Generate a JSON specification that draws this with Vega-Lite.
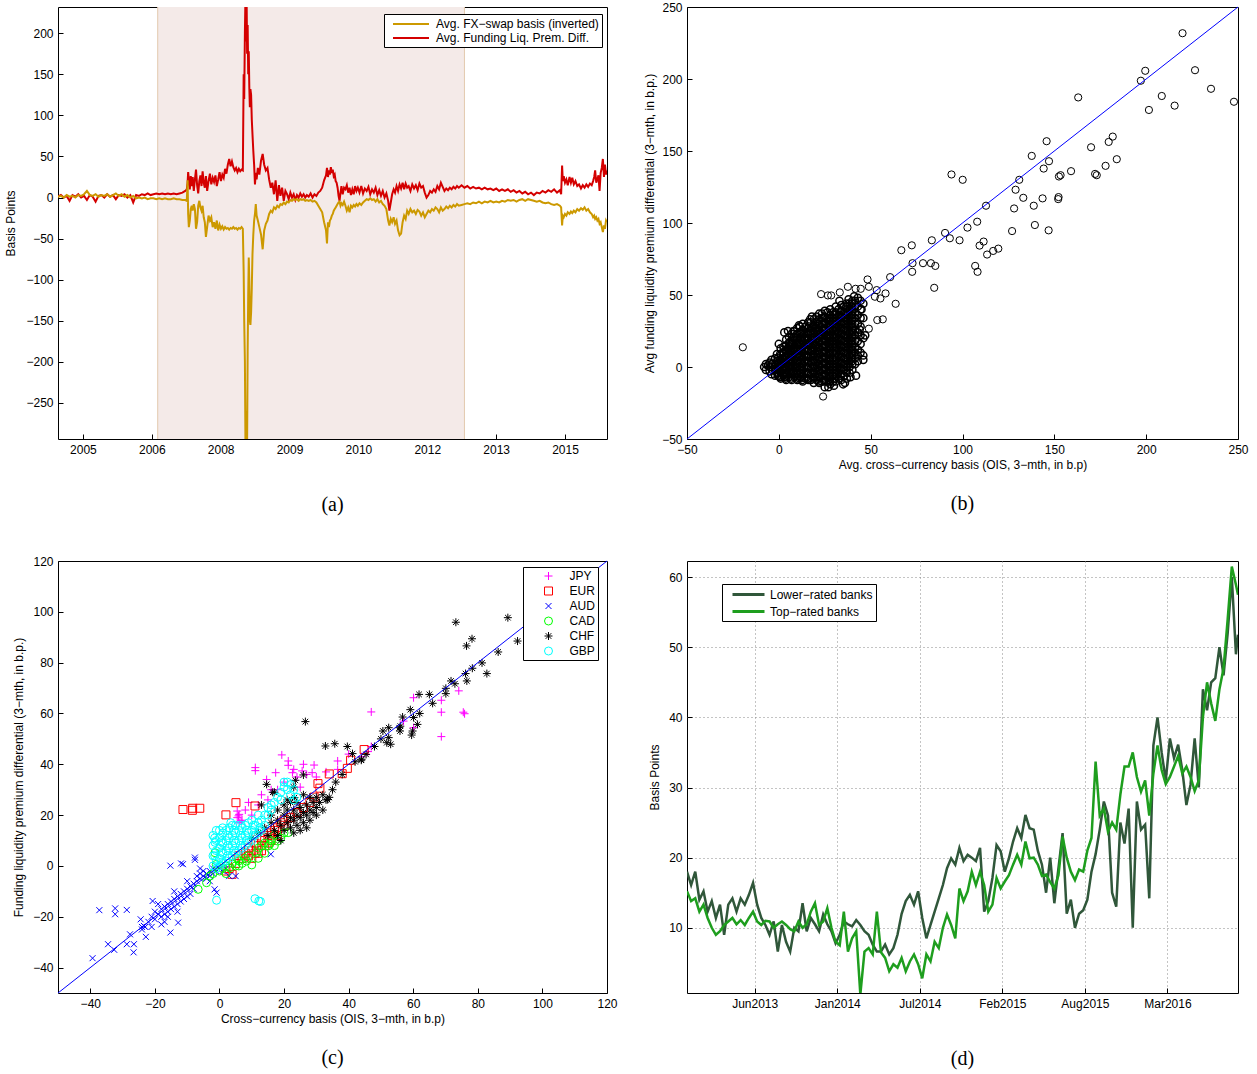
{
"$schema": "https://vega.github.io/schema/vega-lite/v6.json",
"background": "white",
"padding": {"left": 4, "top": 0, "right": 0, "bottom": 0},
"columns": 2,
"spacing": {"row": 122, "column": 80},
"bounds": "flush",
"resolve": {"scale": {"color": "independent", "shape": "independent"}, "legend": {"color": "independent", "shape": "independent"}},
"config": {
  "font": "Liberation Sans",
  "view": {"stroke": "black", "strokeWidth": 1},
  "axis": {"domain": false, "grid": false, "tickColor": "black", "tickSize": -5, "tickWidth": 1, "labelPadding": 10, "labelFontSize": 12, "labelColor": "black", "labelFont": "Liberation Sans", "titleFont": "Liberation Sans", "titleFontSize": 12, "titleFontWeight": "normal", "titleColor": "black", "labelFlush": false, "labelOverlap": false},
  "legend": {"labelFontSize": 12, "labelFont": "Liberation Sans", "labelColor": "black", "strokeColor": "black", "fillColor": "white", "labelLimit": 300},
  "title": {"orient": "bottom", "anchor": "middle", "font": "Liberation Serif", "fontSize": 20, "fontWeight": "normal", "color": "black"}
},
"concat": [
{
  "width": 549, "height": 432,
  "title": {"text": "(a)", "offset": 40},
  "data": {"values": [
{"t":"2005-01-07","L":1,"F":1},{"t":"2005-01-28","L":3,"F":2},{"t":"2005-02-18","L":0,"F":0},{"t":"2005-03-11","L":2,"F":3},{"t":"2005-04-01","L":-4,"F":1},{"t":"2005-04-22","L":3,"F":2},{"t":"2005-05-13","L":1,"F":0},{"t":"2005-06-03","L":4,"F":3},{"t":"2005-06-24","L":0,"F":2},{"t":"2005-07-15","L":2,"F":4},{"t":"2005-08-05","L":-3,"F":8},{"t":"2005-08-26","L":3,"F":3},{"t":"2005-09-16","L":1,"F":2},{"t":"2005-10-07","L":-5,"F":4},{"t":"2005-10-28","L":2,"F":1},{"t":"2005-11-18","L":3,"F":3},{"t":"2005-12-09","L":0,"F":2},{"t":"2005-12-30","L":4,"F":4},
{"t":"2006-01-20","L":1,"F":1},{"t":"2006-02-10","L":3,"F":3},{"t":"2006-03-03","L":-2,"F":5},{"t":"2006-03-24","L":3,"F":2},{"t":"2006-04-14","L":2,"F":4},{"t":"2006-05-05","L":4,"F":1},{"t":"2006-05-26","L":0,"F":3},{"t":"2006-06-16","L":3,"F":0},{"t":"2006-07-07","L":-6,"F":2},{"t":"2006-07-28","L":3,"F":-1},{"t":"2006-08-18","L":2,"F":0},{"t":"2006-09-08","L":4,"F":-1},{"t":"2006-09-29","L":3,"F":0},{"t":"2006-10-20","L":5,"F":-2},{"t":"2006-11-10","L":3,"F":-1},{"t":"2006-12-01","L":4,"F":-1},{"t":"2006-12-22","L":5,"F":-2},
{"t":"2007-01-12","L":4,"F":-1},{"t":"2007-02-02","L":5,"F":-2},{"t":"2007-02-23","L":4,"F":-1},{"t":"2007-03-16","L":5,"F":-2},{"t":"2007-04-06","L":4,"F":-2},{"t":"2007-04-27","L":5,"F":-1},{"t":"2007-05-18","L":4,"F":-2},{"t":"2007-06-08","L":5,"F":-2},{"t":"2007-06-29","L":6,"F":-3},{"t":"2007-07-20","L":8,"F":-3},{"t":"2007-07-31","L":10,"F":-4},{"t":"2007-08-06","L":18,"F":21},{"t":"2007-08-10","L":31,"F":-20},{"t":"2007-08-15","L":22,"F":-36},{"t":"2007-08-22","L":10,"F":-28},{"t":"2007-08-29","L":26,"F":-14},{"t":"2007-09-05","L":14,"F":-10},{"t":"2007-09-12","L":25,"F":-16},{"t":"2007-09-20","L":8,"F":-8},{"t":"2007-09-28","L":22,"F":-14},{"t":"2007-10-06","L":34,"F":-38},{"t":"2007-10-14","L":15,"F":-30},{"t":"2007-10-22","L":5,"F":-10},{"t":"2007-10-30","L":20,"F":-4},{"t":"2007-11-07","L":27,"F":-12},{"t":"2007-11-15","L":14,"F":-16},{"t":"2007-11-23","L":32,"F":-10},{"t":"2007-12-01","L":18,"F":-24},{"t":"2007-12-09","L":12,"F":-30},{"t":"2007-12-17","L":26,"F":-48},{"t":"2007-12-26","L":8,"F":-36},
{"t":"2008-01-05","L":20,"F":-22},{"t":"2008-01-15","L":29,"F":-28},{"t":"2008-01-25","L":16,"F":-24},{"t":"2008-02-04","L":24,"F":-36},{"t":"2008-02-14","L":19,"F":-30},{"t":"2008-02-24","L":27,"F":-38},{"t":"2008-03-05","L":14,"F":-28},{"t":"2008-03-15","L":22,"F":-40},{"t":"2008-03-25","L":31,"F":-33},{"t":"2008-04-04","L":20,"F":-38},{"t":"2008-04-14","L":28,"F":-35},{"t":"2008-04-24","L":24,"F":-39},{"t":"2008-05-04","L":35,"F":-36},{"t":"2008-05-14","L":29,"F":-38},{"t":"2008-05-24","L":40,"F":-37},{"t":"2008-06-03","L":47,"F":-39},{"t":"2008-06-13","L":38,"F":-37},{"t":"2008-06-23","L":44,"F":-38},{"t":"2008-07-03","L":37,"F":-36},{"t":"2008-07-13","L":33,"F":-38},{"t":"2008-07-23","L":36,"F":-37},{"t":"2008-08-02","L":31,"F":-39},{"t":"2008-08-12","L":35,"F":-37},{"t":"2008-08-22","L":32,"F":-38},{"t":"2008-09-01","L":34,"F":-36},{"t":"2008-09-10","L":33,"F":-38},{"t":"2008-09-16","L":150,"F":-90},{"t":"2008-09-20","L":120,"F":-150},{"t":"2008-09-25","L":200,"F":-200},{"t":"2008-09-29","L":245,"F":-300},{"t":"2008-10-03","L":190,"F":-260},{"t":"2008-10-07","L":250,"F":-300},{"t":"2008-10-11","L":175,"F":-300},{"t":"2008-10-15","L":210,"F":-187},{"t":"2008-10-19","L":150,"F":-120},{"t":"2008-10-23","L":178,"F":-73},{"t":"2008-10-27","L":134,"F":-100},{"t":"2008-10-31","L":110,"F":-150},{"t":"2008-11-04","L":132,"F":-155},{"t":"2008-11-09","L":125,"F":-140},{"t":"2008-11-14","L":95,"F":-110},{"t":"2008-11-19","L":77,"F":-69},{"t":"2008-11-25","L":57,"F":-45},{"t":"2008-12-01","L":40,"F":-28},{"t":"2008-12-07","L":16,"F":-20},{"t":"2008-12-13","L":30,"F":-8},{"t":"2008-12-19","L":22,"F":-22},{"t":"2008-12-28","L":36,"F":-28},
{"t":"2009-01-08","L":28,"F":-36},{"t":"2009-01-20","L":45,"F":-45},{"t":"2009-02-01","L":53,"F":-63},{"t":"2009-02-12","L":40,"F":-40},{"t":"2009-02-24","L":33,"F":-32},{"t":"2009-03-08","L":36,"F":-28},{"t":"2009-03-20","L":22,"F":-20},{"t":"2009-04-01","L":12,"F":-16},{"t":"2009-04-12","L":18,"F":-18},{"t":"2009-04-24","L":4,"F":-12},{"t":"2009-05-06","L":21,"F":-14},{"t":"2009-05-18","L":-4,"F":-10},{"t":"2009-05-30","L":15,"F":-12},{"t":"2009-06-10","L":2,"F":-8},{"t":"2009-06-22","L":12,"F":-9},{"t":"2009-07-04","L":-4,"F":-6},{"t":"2009-07-16","L":8,"F":-8},{"t":"2009-07-28","L":4,"F":-5},{"t":"2009-08-09","L":-2,"F":-6},{"t":"2009-08-21","L":6,"F":-3},{"t":"2009-09-02","L":0,"F":-4},{"t":"2009-09-14","L":4,"F":-2},{"t":"2009-09-26","L":-3,"F":-3},{"t":"2009-10-08","L":3,"F":-2},{"t":"2009-10-20","L":0,"F":-4},{"t":"2009-11-01","L":5,"F":-2},{"t":"2009-11-13","L":1,"F":-3},{"t":"2009-11-25","L":4,"F":-2},{"t":"2009-12-07","L":0,"F":-4},{"t":"2009-12-19","L":3,"F":-3},
{"t":"2010-01-01","L":1,"F":-4},{"t":"2010-01-15","L":5,"F":-3},{"t":"2010-01-29","L":0,"F":-5},{"t":"2010-02-12","L":4,"F":-4},{"t":"2010-02-26","L":2,"F":-6},{"t":"2010-03-12","L":6,"F":-10},{"t":"2010-03-26","L":8,"F":-14},{"t":"2010-04-09","L":12,"F":-18},{"t":"2010-04-23","L":21,"F":-30},{"t":"2010-05-07","L":27,"F":-40},{"t":"2010-05-14","L":36,"F":-56},{"t":"2010-05-21","L":25,"F":-30},{"t":"2010-05-28","L":33,"F":-36},{"t":"2010-06-04","L":28,"F":-28},{"t":"2010-06-11","L":37,"F":-26},{"t":"2010-06-18","L":30,"F":-22},{"t":"2010-06-25","L":34,"F":-20},{"t":"2010-07-02","L":26,"F":-16},{"t":"2010-07-09","L":28,"F":-14},{"t":"2010-07-16","L":20,"F":-12},{"t":"2010-07-23","L":18,"F":-10},{"t":"2010-07-30","L":12,"F":-8},{"t":"2010-08-06","L":2,"F":-6},{"t":"2010-08-13","L":-4,"F":-5},{"t":"2010-08-20","L":6,"F":-10},{"t":"2010-08-27","L":14,"F":-7},{"t":"2010-09-05","L":4,"F":-9},{"t":"2010-09-15","L":12,"F":-5},{"t":"2010-09-25","L":10,"F":-10},{"t":"2010-10-05","L":15,"F":-16},{"t":"2010-10-15","L":6,"F":-12},{"t":"2010-10-25","L":12,"F":-18},{"t":"2010-11-04","L":3,"F":-10},{"t":"2010-11-14","L":10,"F":-12},{"t":"2010-11-24","L":4,"F":-9},{"t":"2010-12-04","L":14,"F":-11},{"t":"2010-12-14","L":8,"F":-8},{"t":"2010-12-24","L":12,"F":-10},
{"t":"2011-01-05","L":6,"F":-7},{"t":"2011-01-18","L":14,"F":-9},{"t":"2011-01-31","L":5,"F":-6},{"t":"2011-02-13","L":11,"F":-4},{"t":"2011-02-26","L":8,"F":-2},{"t":"2011-03-11","L":13,"F":-3},{"t":"2011-03-24","L":4,"F":-1},{"t":"2011-04-06","L":10,"F":-3},{"t":"2011-04-19","L":6,"F":-2},{"t":"2011-05-02","L":12,"F":-5},{"t":"2011-05-15","L":3,"F":-2},{"t":"2011-05-28","L":9,"F":-6},{"t":"2011-06-10","L":2,"F":-4},{"t":"2011-06-23","L":8,"F":-8},{"t":"2011-07-06","L":0,"F":-10},{"t":"2011-07-19","L":5,"F":-14},{"t":"2011-08-01","L":-4,"F":-28},{"t":"2011-08-10","L":-16,"F":-34},{"t":"2011-08-20","L":-6,"F":-26},{"t":"2011-08-30","L":4,"F":-30},{"t":"2011-09-10","L":10,"F":-24},{"t":"2011-09-20","L":6,"F":-32},{"t":"2011-10-01","L":14,"F":-28},{"t":"2011-10-12","L":8,"F":-40},{"t":"2011-10-23","L":16,"F":-46},{"t":"2011-11-03","L":11,"F":-44},{"t":"2011-11-14","L":18,"F":-30},{"t":"2011-11-25","L":10,"F":-22},{"t":"2011-12-06","L":17,"F":-26},{"t":"2011-12-17","L":12,"F":-16},{"t":"2011-12-28","L":14,"F":-20},
{"t":"2012-01-10","L":8,"F":-14},{"t":"2012-01-23","L":16,"F":-18},{"t":"2012-02-05","L":11,"F":-16},{"t":"2012-02-18","L":15,"F":-20},{"t":"2012-03-02","L":9,"F":-15},{"t":"2012-03-15","L":17,"F":-17},{"t":"2012-03-28","L":12,"F":-22},{"t":"2012-04-10","L":14,"F":-18},{"t":"2012-04-23","L":6,"F":-24},{"t":"2012-05-06","L":0,"F":-20},{"t":"2012-05-19","L":3,"F":-16},{"t":"2012-06-01","L":8,"F":-18},{"t":"2012-06-14","L":6,"F":-14},{"t":"2012-06-27","L":10,"F":-16},{"t":"2012-07-10","L":7,"F":-12},{"t":"2012-07-23","L":14,"F":-14},{"t":"2012-08-05","L":10,"F":-18},{"t":"2012-08-18","L":18,"F":-12},{"t":"2012-08-31","L":13,"F":-16},{"t":"2012-09-13","L":8,"F":-14},{"t":"2012-09-26","L":11,"F":-11},{"t":"2012-10-09","L":9,"F":-13},{"t":"2012-10-22","L":12,"F":-10},{"t":"2012-11-04","L":10,"F":-12},{"t":"2012-11-17","L":13,"F":-9},{"t":"2012-11-30","L":11,"F":-11},{"t":"2012-12-13","L":14,"F":-8},{"t":"2012-12-26","L":12,"F":-10},
{"t":"2013-01-15","L":15,"F":-9},{"t":"2013-02-05","L":12,"F":-8},{"t":"2013-02-26","L":14,"F":-7},{"t":"2013-03-19","L":11,"F":-8},{"t":"2013-04-09","L":13,"F":-6},{"t":"2013-04-30","L":11,"F":-7},{"t":"2013-05-21","L":12,"F":-5},{"t":"2013-06-11","L":10,"F":-7},{"t":"2013-07-02","L":12,"F":-5},{"t":"2013-07-23","L":10,"F":-6},{"t":"2013-08-13","L":11,"F":-4},{"t":"2013-09-03","L":9,"F":-6},{"t":"2013-09-24","L":11,"F":-5},{"t":"2013-10-15","L":8,"F":-6},{"t":"2013-11-05","L":10,"F":-4},{"t":"2013-11-26","L":8,"F":-5},{"t":"2013-12-17","L":10,"F":-3},
{"t":"2014-01-07","L":7,"F":-4},{"t":"2014-01-28","L":9,"F":-3},{"t":"2014-02-18","L":6,"F":-5},{"t":"2014-03-11","L":8,"F":-3},{"t":"2014-04-01","L":5,"F":-2},{"t":"2014-04-22","L":7,"F":-4},{"t":"2014-05-13","L":4,"F":-2},{"t":"2014-06-03","L":6,"F":-3},{"t":"2014-06-24","L":3,"F":-4},{"t":"2014-07-15","L":6,"F":-5},{"t":"2014-08-05","L":5,"F":-4},{"t":"2014-08-26","L":8,"F":-6},{"t":"2014-09-16","L":6,"F":-7},{"t":"2014-10-07","L":9,"F":-6},{"t":"2014-10-28","L":7,"F":-8},{"t":"2014-11-18","L":10,"F":-9},{"t":"2014-12-09","L":6,"F":-8},{"t":"2014-12-30","L":9,"F":-10},
{"t":"2015-01-08","L":4,"F":-12},{"t":"2015-01-15","L":39,"F":-34},{"t":"2015-01-20","L":20,"F":-22},{"t":"2015-01-27","L":26,"F":-24},{"t":"2015-02-05","L":18,"F":-20},{"t":"2015-02-15","L":22,"F":-22},{"t":"2015-02-25","L":15,"F":-18},{"t":"2015-03-10","L":25,"F":-20},{"t":"2015-03-20","L":18,"F":-17},{"t":"2015-03-30","L":24,"F":-19},{"t":"2015-04-10","L":16,"F":-16},{"t":"2015-04-22","L":20,"F":-18},{"t":"2015-05-05","L":14,"F":-14},{"t":"2015-05-18","L":16,"F":-16},{"t":"2015-06-01","L":11,"F":-13},{"t":"2015-06-14","L":15,"F":-15},{"t":"2015-06-27","L":12,"F":-12},{"t":"2015-07-10","L":16,"F":-16},{"t":"2015-07-23","L":13,"F":-14},{"t":"2015-08-05","L":17,"F":-18},{"t":"2015-08-18","L":15,"F":-20},{"t":"2015-08-28","L":20,"F":-24},{"t":"2015-09-05","L":25,"F":-22},{"t":"2015-09-12","L":33,"F":-26},{"t":"2015-09-20","L":18,"F":-24},{"t":"2015-09-28","L":22,"F":-28},{"t":"2015-10-06","L":27,"F":-26},{"t":"2015-10-14","L":8,"F":-32},{"t":"2015-10-22","L":30,"F":-30},{"t":"2015-10-30","L":36,"F":-36},{"t":"2015-11-07","L":47,"F":-42},{"t":"2015-11-15","L":25,"F":-34},{"t":"2015-11-22","L":40,"F":-38},{"t":"2015-11-30","L":28,"F":-28},{"t":"2015-12-06","L":33,"F":-30}
  ]},
  "encoding": {
    "x": {"field": "t", "type": "temporal", "scale": {"domain": ["2005-01-07", "2015-12-07"], "nice": false},
          "axis": {"title": null, "format": "%Y", "values": ["2005-07-07", "2006-11-19", "2008-04-02", "2009-08-15", "2010-12-28", "2012-05-11", "2013-09-23", "2015-02-05"]}}
  },
  "layer": [
    {"data": {"values": [{"t": "2007-01-01", "t2": "2013-02-05"}]}, "mark": {"type": "rect", "color": "#F4EAE8"}, "encoding": {"x2": {"field": "t2"}}},
    {"data": {"values": [{"t": "2007-01-01"}, {"t": "2013-02-05"}]}, "mark": {"type": "rule", "color": "#E3C9AE", "strokeWidth": 1}, "encoding": {}},
    {"mark": {"type": "line", "strokeWidth": 2, "clip": true},
     "encoding": {
       "y": {"field": "L", "type": "quantitative", "scale": {"domain": [-294, 232], "nice": false, "zero": false}, "axis": {"title": "Basis Points", "titlePadding": 8, "values": [-250, -200, -150, -100, -50, 0, 50, 100, 150, 200]}},
       "color": {"datum": "Avg. Funding Liq. Prem. Diff.", "scale": {"domain": ["Avg. FX−swap basis (inverted)", "Avg. Funding Liq. Prem. Diff."], "range": ["#CC9900", "#D40000"]},
                 "legend": {"orient": "none", "legendX": 326, "legendY": 7, "title": null, "symbolType": "M-3,0H3", "symbolSize": 144, "symbolStrokeWidth": 2, "padding": 3, "rowPadding": 1, "symbolOffset": 17, "labelOffset": 18, "labelLimit": 300}}
     }},
    {"mark": {"type": "line", "strokeWidth": 2, "clip": true},
     "encoding": {
       "y": {"field": "F", "type": "quantitative", "scale": {"domain": [-294, 232], "nice": false, "zero": false}, "axis": {"title": "Basis Points", "titlePadding": 8, "values": [-250, -200, -150, -100, -50, 0, 50, 100, 150, 200]}},
       "color": {"datum": "Avg. FX−swap basis (inverted)", "scale": {"domain": ["Avg. FX−swap basis (inverted)", "Avg. Funding Liq. Prem. Diff."], "range": ["#CC9900", "#D40000"]},
                 "legend": {"orient": "none", "legendX": 326, "legendY": 7, "title": null, "symbolType": "M-3,0H3", "symbolSize": 144, "symbolStrokeWidth": 2, "padding": 3, "rowPadding": 1, "symbolOffset": 17, "labelOffset": 18, "labelLimit": 300}}
     }}
  ]
},
{
  "width": 551, "height": 432,
  "title": {"text": "(b)", "offset": 24},
  "encoding": {
    "x": {"field": "x", "type": "quantitative", "scale": {"domain": [-50, 250], "nice": false, "zero": false}, "axis": {"title": "Avg. cross−currency basis (OIS, 3−mth, in b.p)", "titlePadding": 4, "values": [-50, 0, 50, 100, 150, 200, 250]}},
    "y": {"field": "y", "type": "quantitative", "scale": {"domain": [-50, 250], "nice": false, "zero": false}, "axis": {"title": "Avg funding liquidity premium differential (3−mth, in b.p.)", "titlePadding": 5, "values": [-50, 0, 50, 100, 150, 200, 250]}}
  },
  "layer": [
    {"data": {"values": [
{"x":-8,"y":0},{"x":-7,"y":-2},{"x":-7,"y":2},{"x":-6,"y":1},{"x":-5,"y":-3},{"x":-5,"y":0},{"x":-5,"y":3},{"x":-4,"y":-5},{"x":-4,"y":2},{"x":-4,"y":5},
{"x":-2,"y":-6},{"x":-2,"y":-2},{"x":-2,"y":2},{"x":-2,"y":6},{"x":-1,"y":-4},{"x":-1,"y":0},{"x":-1,"y":4},{"x":-1,"y":9},
{"x":1,"y":-8},{"x":1,"y":-4},{"x":1,"y":0},{"x":1,"y":4},{"x":1,"y":8},{"x":1,"y":13},{"x":0,"y":-6},{"x":0,"y":2},{"x":0,"y":16},{"x":2,"y":-2},{"x":2,"y":6},{"x":2,"y":10},
{"x":4,"y":-9},{"x":4,"y":-5},{"x":4,"y":-1},{"x":4,"y":3},{"x":4,"y":7},{"x":4,"y":11},{"x":4,"y":15},{"x":4,"y":19},{"x":3,"y":24},{"x":3,"y":-7},{"x":5,"y":1},{"x":5,"y":9},{"x":5,"y":13},{"x":5,"y":25},
{"x":7,"y":-9},{"x":7,"y":-5},{"x":7,"y":-1},{"x":7,"y":3},{"x":7,"y":7},{"x":7,"y":11},{"x":7,"y":15},{"x":7,"y":19},{"x":7,"y":23},{"x":6,"y":5},{"x":6,"y":17},{"x":8,"y":-3},{"x":8,"y":13},{"x":8,"y":21},{"x":8,"y":25},
{"x":10,"y":-9},{"x":10,"y":-5},{"x":10,"y":-1},{"x":10,"y":3},{"x":10,"y":7},{"x":10,"y":11},{"x":10,"y":15},{"x":10,"y":19},{"x":10,"y":23},{"x":10,"y":27},{"x":9,"y":0},{"x":11,"y":9},{"x":11,"y":17},{"x":11,"y":29},{"x":12,"y":-7},
{"x":13,"y":-10},{"x":13,"y":-6},{"x":13,"y":-2},{"x":13,"y":2},{"x":13,"y":6},{"x":13,"y":10},{"x":13,"y":14},{"x":13,"y":18},{"x":13,"y":22},{"x":13,"y":26},{"x":13,"y":30},{"x":14,"y":4},{"x":14,"y":12},{"x":14,"y":20},
{"x":16,"y":-9},{"x":16,"y":-5},{"x":16,"y":-1},{"x":16,"y":3},{"x":16,"y":7},{"x":16,"y":11},{"x":16,"y":15},{"x":16,"y":19},{"x":16,"y":23},{"x":16,"y":27},{"x":16,"y":31},{"x":15,"y":8},{"x":17,"y":17},{"x":17,"y":25},{"x":17,"y":33},
{"x":19,"y":-11},{"x":19,"y":-7},{"x":19,"y":-3},{"x":19,"y":1},{"x":19,"y":5},{"x":19,"y":9},{"x":19,"y":13},{"x":19,"y":17},{"x":19,"y":21},{"x":19,"y":25},{"x":19,"y":29},{"x":19,"y":33},{"x":18,"y":35},{"x":20,"y":15},{"x":20,"y":27},
{"x":22,"y":-11},{"x":22,"y":-7},{"x":22,"y":-3},{"x":22,"y":1},{"x":22,"y":5},{"x":22,"y":9},{"x":22,"y":13},{"x":22,"y":17},{"x":22,"y":21},{"x":22,"y":25},{"x":22,"y":29},{"x":22,"y":33},{"x":22,"y":37},{"x":21,"y":11},{"x":23,"y":23},
{"x":25,"y":-14},{"x":25,"y":-9},{"x":25,"y":-5},{"x":25,"y":-1},{"x":25,"y":3},{"x":25,"y":7},{"x":25,"y":11},{"x":25,"y":15},{"x":25,"y":19},{"x":25,"y":23},{"x":25,"y":27},{"x":25,"y":31},{"x":25,"y":35},{"x":25,"y":39},{"x":26,"y":21},
{"x":28,"y":-12},{"x":28,"y":-8},{"x":28,"y":-4},{"x":28,"y":0},{"x":28,"y":4},{"x":28,"y":8},{"x":28,"y":12},{"x":28,"y":16},{"x":28,"y":20},{"x":28,"y":24},{"x":28,"y":28},{"x":28,"y":32},{"x":28,"y":36},{"x":28,"y":40},{"x":27,"y":-14},{"x":29,"y":18},
{"x":31,"y":-10},{"x":31,"y":-6},{"x":31,"y":-2},{"x":31,"y":2},{"x":31,"y":6},{"x":31,"y":10},{"x":31,"y":14},{"x":31,"y":18},{"x":31,"y":22},{"x":31,"y":26},{"x":31,"y":30},{"x":31,"y":34},{"x":31,"y":38},{"x":31,"y":42},{"x":30,"y":-13},{"x":32,"y":24},
{"x":34,"y":-9},{"x":34,"y":-5},{"x":34,"y":-1},{"x":34,"y":3},{"x":34,"y":7},{"x":34,"y":11},{"x":34,"y":15},{"x":34,"y":19},{"x":34,"y":23},{"x":34,"y":27},{"x":34,"y":31},{"x":34,"y":35},{"x":34,"y":39},{"x":34,"y":43},{"x":35,"y":-12},{"x":33,"y":46},
{"x":37,"y":-8},{"x":37,"y":-4},{"x":37,"y":0},{"x":37,"y":4},{"x":37,"y":8},{"x":37,"y":12},{"x":37,"y":16},{"x":37,"y":20},{"x":37,"y":24},{"x":37,"y":28},{"x":37,"y":32},{"x":37,"y":36},{"x":37,"y":40},{"x":37,"y":44},{"x":36,"y":-11},{"x":38,"y":47},
{"x":40,"y":-2},{"x":40,"y":2},{"x":40,"y":6},{"x":40,"y":10},{"x":40,"y":14},{"x":40,"y":18},{"x":40,"y":22},{"x":40,"y":26},{"x":40,"y":30},{"x":40,"y":34},{"x":40,"y":38},{"x":40,"y":42},{"x":40,"y":46},{"x":41,"y":49},{"x":39,"y":-7},
{"x":43,"y":4},{"x":43,"y":8},{"x":43,"y":12},{"x":43,"y":18},{"x":43,"y":24},{"x":43,"y":30},{"x":43,"y":36},{"x":43,"y":42},{"x":43,"y":48},{"x":42,"y":-6},{"x":44,"y":26},
{"x":46,"y":5},{"x":46,"y":8},{"x":46,"y":20},{"x":46,"y":34},{"x":46,"y":44},{"x":47,"y":22},{"x":45,"y":40},
{"x":-3.5,"y":-2},{"x":-3.5,"y":2},{"x":-0.5,"y":-6},{"x":-0.5,"y":-2},{"x":-0.5,"y":2},{"x":-0.5,"y":6},
{"x":2.5,"y":-6},{"x":2.5,"y":-2},{"x":2.5,"y":2},{"x":2.5,"y":6},{"x":2.5,"y":10},{"x":2.5,"y":14},
{"x":5.5,"y":-7},{"x":5.5,"y":-3},{"x":5.5,"y":1},{"x":5.5,"y":5},{"x":5.5,"y":9},{"x":5.5,"y":13},{"x":5.5,"y":17},{"x":5.5,"y":21},
{"x":8.5,"y":-7},{"x":8.5,"y":-3},{"x":8.5,"y":1},{"x":8.5,"y":5},{"x":8.5,"y":9},{"x":8.5,"y":13},{"x":8.5,"y":17},{"x":8.5,"y":21},{"x":8.5,"y":25},
{"x":11.5,"y":-8},{"x":11.5,"y":-4},{"x":11.5,"y":0},{"x":11.5,"y":4},{"x":11.5,"y":8},{"x":11.5,"y":12},{"x":11.5,"y":16},{"x":11.5,"y":20},{"x":11.5,"y":24},{"x":11.5,"y":28},
{"x":14.5,"y":-8},{"x":14.5,"y":-4},{"x":14.5,"y":0},{"x":14.5,"y":4},{"x":14.5,"y":8},{"x":14.5,"y":12},{"x":14.5,"y":16},{"x":14.5,"y":20},{"x":14.5,"y":24},{"x":14.5,"y":28},
{"x":17.5,"y":-9},{"x":17.5,"y":-5},{"x":17.5,"y":-1},{"x":17.5,"y":3},{"x":17.5,"y":7},{"x":17.5,"y":11},{"x":17.5,"y":15},{"x":17.5,"y":19},{"x":17.5,"y":23},{"x":17.5,"y":27},{"x":17.5,"y":31},
{"x":20.5,"y":-9},{"x":20.5,"y":-5},{"x":20.5,"y":-1},{"x":20.5,"y":3},{"x":20.5,"y":7},{"x":20.5,"y":11},{"x":20.5,"y":15},{"x":20.5,"y":19},{"x":20.5,"y":23},{"x":20.5,"y":27},{"x":20.5,"y":31},{"x":20.5,"y":35},
{"x":23.5,"y":-10},{"x":23.5,"y":-6},{"x":23.5,"y":-2},{"x":23.5,"y":2},{"x":23.5,"y":6},{"x":23.5,"y":10},{"x":23.5,"y":14},{"x":23.5,"y":18},{"x":23.5,"y":22},{"x":23.5,"y":26},{"x":23.5,"y":30},{"x":23.5,"y":34},{"x":23.5,"y":37},
{"x":26.5,"y":-10},{"x":26.5,"y":-6},{"x":26.5,"y":-2},{"x":26.5,"y":2},{"x":26.5,"y":6},{"x":26.5,"y":10},{"x":26.5,"y":14},{"x":26.5,"y":18},{"x":26.5,"y":22},{"x":26.5,"y":26},{"x":26.5,"y":30},{"x":26.5,"y":34},{"x":26.5,"y":38},
{"x":29.5,"y":-10},{"x":29.5,"y":-6},{"x":29.5,"y":-2},{"x":29.5,"y":2},{"x":29.5,"y":6},{"x":29.5,"y":10},{"x":29.5,"y":14},{"x":29.5,"y":18},{"x":29.5,"y":22},{"x":29.5,"y":26},{"x":29.5,"y":30},{"x":29.5,"y":34},{"x":29.5,"y":38},
{"x":32.5,"y":-8},{"x":32.5,"y":-4},{"x":32.5,"y":0},{"x":32.5,"y":4},{"x":32.5,"y":8},{"x":32.5,"y":12},{"x":32.5,"y":16},{"x":32.5,"y":20},{"x":32.5,"y":24},{"x":32.5,"y":28},{"x":32.5,"y":32},{"x":32.5,"y":36},{"x":32.5,"y":40},
{"x":35.5,"y":-6},{"x":35.5,"y":-2},{"x":35.5,"y":2},{"x":35.5,"y":6},{"x":35.5,"y":10},{"x":35.5,"y":14},{"x":35.5,"y":18},{"x":35.5,"y":22},{"x":35.5,"y":26},{"x":35.5,"y":30},{"x":35.5,"y":34},{"x":35.5,"y":38},{"x":35.5,"y":42},
{"x":38.5,"y":-4},{"x":38.5,"y":0},{"x":38.5,"y":4},{"x":38.5,"y":8},{"x":38.5,"y":12},{"x":38.5,"y":16},{"x":38.5,"y":20},{"x":38.5,"y":24},{"x":38.5,"y":28},{"x":38.5,"y":32},{"x":38.5,"y":36},{"x":38.5,"y":40},{"x":38.5,"y":44},
{"x":41.5,"y":2},{"x":41.5,"y":6},{"x":41.5,"y":10},{"x":41.5,"y":14},{"x":41.5,"y":18},{"x":41.5,"y":22},{"x":41.5,"y":26},{"x":41.5,"y":30},{"x":41.5,"y":34},{"x":41.5,"y":38},{"x":41.5,"y":42},{"x":41.5,"y":46},
{"x":44.5,"y":10},{"x":44.5,"y":16},{"x":44.5,"y":22},{"x":44.5,"y":28},{"x":44.5,"y":34},{"x":44.5,"y":40},{"x":44.5,"y":46},
{"x":0.75,"y":-7},{"x":0.75,"y":-3},{"x":0.75,"y":1},{"x":0.75,"y":5},{"x":0.75,"y":9},
{"x":3.75,"y":-8},{"x":3.75,"y":-4},{"x":3.75,"y":0},{"x":3.75,"y":4},{"x":3.75,"y":8},{"x":3.75,"y":12},
{"x":6.75,"y":-8},{"x":6.75,"y":-4},{"x":6.75,"y":0},{"x":6.75,"y":4},{"x":6.75,"y":8},{"x":6.75,"y":12},{"x":6.75,"y":16},
{"x":9.75,"y":-8},{"x":9.75,"y":-4},{"x":9.75,"y":0},{"x":9.75,"y":4},{"x":9.75,"y":8},{"x":9.75,"y":12},{"x":9.75,"y":16},{"x":9.75,"y":20},
{"x":12.75,"y":-9},{"x":12.75,"y":-5},{"x":12.75,"y":-1},{"x":12.75,"y":3},{"x":12.75,"y":7},{"x":12.75,"y":11},{"x":12.75,"y":15},{"x":12.75,"y":19},{"x":12.75,"y":23},
{"x":15.75,"y":-8},{"x":15.75,"y":-4},{"x":15.75,"y":0},{"x":15.75,"y":4},{"x":15.75,"y":8},{"x":15.75,"y":12},{"x":15.75,"y":16},{"x":15.75,"y":20},{"x":15.75,"y":24},
{"x":18.75,"y":-8},{"x":18.75,"y":-4},{"x":18.75,"y":0},{"x":18.75,"y":4},{"x":18.75,"y":8},{"x":18.75,"y":12},{"x":18.75,"y":16},{"x":18.75,"y":20},{"x":18.75,"y":24},{"x":18.75,"y":28},
{"x":21.75,"y":-10},{"x":21.75,"y":-6},{"x":21.75,"y":-2},{"x":21.75,"y":2},{"x":21.75,"y":6},{"x":21.75,"y":10},{"x":21.75,"y":14},{"x":21.75,"y":18},{"x":21.75,"y":22},{"x":21.75,"y":26},{"x":21.75,"y":30},
{"x":24.75,"y":-10},{"x":24.75,"y":-6},{"x":24.75,"y":-2},{"x":24.75,"y":2},{"x":24.75,"y":6},{"x":24.75,"y":10},{"x":24.75,"y":14},{"x":24.75,"y":18},{"x":24.75,"y":22},{"x":24.75,"y":26},{"x":24.75,"y":30},{"x":24.75,"y":34},
{"x":27.75,"y":-10},{"x":27.75,"y":-6},{"x":27.75,"y":-2},{"x":27.75,"y":2},{"x":27.75,"y":6},{"x":27.75,"y":10},{"x":27.75,"y":14},{"x":27.75,"y":18},{"x":27.75,"y":22},{"x":27.75,"y":26},{"x":27.75,"y":30},{"x":27.75,"y":34},
{"x":30.75,"y":-8},{"x":30.75,"y":-4},{"x":30.75,"y":0},{"x":30.75,"y":4},{"x":30.75,"y":8},{"x":30.75,"y":12},{"x":30.75,"y":16},{"x":30.75,"y":20},{"x":30.75,"y":24},{"x":30.75,"y":28},{"x":30.75,"y":32},{"x":30.75,"y":36},
{"x":33.75,"y":-6},{"x":33.75,"y":-2},{"x":33.75,"y":2},{"x":33.75,"y":6},{"x":33.75,"y":10},{"x":33.75,"y":14},{"x":33.75,"y":18},{"x":33.75,"y":22},{"x":33.75,"y":26},{"x":33.75,"y":30},{"x":33.75,"y":34},{"x":33.75,"y":38},
{"x":36.75,"y":-2},{"x":36.75,"y":2},{"x":36.75,"y":6},{"x":36.75,"y":10},{"x":36.75,"y":14},{"x":36.75,"y":18},{"x":36.75,"y":22},{"x":36.75,"y":26},{"x":36.75,"y":30},{"x":36.75,"y":34},{"x":36.75,"y":38},{"x":36.75,"y":42},
{"x":39.75,"y":4},{"x":39.75,"y":8},{"x":39.75,"y":12},{"x":39.75,"y":16},{"x":39.75,"y":20},{"x":39.75,"y":24},{"x":39.75,"y":28},{"x":39.75,"y":32},{"x":39.75,"y":36},{"x":39.75,"y":40},{"x":39.75,"y":44}
    ]},
     "mark": {"type": "point", "shape": "circle", "filled": false, "color": "black", "size": 52, "strokeWidth": 1.5, "opacity": 1}},
    {"data": {"values": [
{"x":219.8,"y":231.8},{"x":199.5,"y":205.7},{"x":197.1,"y":198.8},{"x":226.6,"y":206.1},{"x":235.3,"y":193.2},{"x":247.8,"y":184.2},{"x":208.5,"y":188.2},{"x":201.5,"y":178.5},{"x":215.5,"y":181.5},{"x":163,"y":187.2},
{"x":145.8,"y":156.8},{"x":181.8,"y":160},{"x":179.6,"y":156.3},{"x":170,"y":152.6},{"x":137.7,"y":146.6},{"x":147.1,"y":142.9},{"x":144.2,"y":137.8},{"x":184,"y":144.3},{"x":177.9,"y":139.7},{"x":159.1,"y":136},
{"x":153.4,"y":133.2},{"x":152.5,"y":132.3},{"x":172.2,"y":134.1},{"x":173.1,"y":133.2},{"x":94,"y":133.7},{"x":100.1,"y":130},{"x":130.9,"y":130},{"x":128.9,"y":123.1},{"x":133.1,"y":117.5},{"x":143.6,"y":117.1},
{"x":152.3,"y":118},{"x":152.1,"y":116.6},{"x":138.8,"y":112},{"x":112.8,"y":112},{"x":128.1,"y":110.1},{"x":108,"y":100.9},{"x":102.7,"y":96.8},{"x":139.4,"y":98.6},{"x":127,"y":94.4},{"x":146.9,"y":94.9},
{"x":90.5,"y":93.1},{"x":93.1,"y":89.4},{"x":98.4,"y":88},{"x":83.3,"y":88},{"x":111.5,"y":87.1},{"x":109.3,"y":84.3},{"x":66.7,"y":81.1},{"x":72.4,"y":84.5},{"x":119.5,"y":82.2},{"x":116.7,"y":80.6},
{"x":113.4,"y":78.1},{"x":72.8,"y":72.1},{"x":78.5,"y":72.1},{"x":82.8,"y":72.1},{"x":85.2,"y":70.2},{"x":106.9,"y":70.2},{"x":72.6,"y":66.1},{"x":108.2,"y":66.1},{"x":84.6,"y":55},{"x":60.6,"y":62.4},
{"x":63.6,"y":43.9},{"x":48.3,"y":60.8},{"x":58.1,"y":51.1},{"x":55.3,"y":47.6},{"x":52.3,"y":48.8},{"x":53.3,"y":53.4},{"x":49,"y":55.7},{"x":44.6,"y":54.3},{"x":37.6,"y":55.7},{"x":41.8,"y":54.3},
{"x":33.2,"y":51.8},{"x":23,"y":50.6},{"x":26.7,"y":49.7},{"x":28.5,"y":49.7},{"x":53.6,"y":32.6},{"x":56.6,"y":33.1},{"x":49,"y":26.6},{"x":-19.6,"y":13.7},{"x":24.1,"y":-20.5}
    ]},
     "mark": {"type": "point", "shape": "circle", "filled": false, "color": "black", "size": 52, "strokeWidth": 1, "opacity": 1}},
    {"data": {"values": [{"x": -50, "y": -50}, {"x": 250, "y": 250}]}, "mark": {"type": "line", "color": "#0000FF", "strokeWidth": 1}}
  ]
},
{
  "width": 549, "height": 432,
  "title": {"text": "(c)", "offset": 24},
  "encoding": {
    "x": {"field": "x", "type": "quantitative", "scale": {"domain": [-50, 120], "nice": false, "zero": false}, "axis": {"title": "Cross−currency basis (OIS, 3−mth, in b.p)", "titlePadding": 4, "values": [-40, -20, 0, 20, 40, 60, 80, 100, 120]}},
    "y": {"field": "y", "type": "quantitative", "scale": {"domain": [-50, 120], "nice": false, "zero": false}, "axis": {"title": "Funding liquidity premium differential (3−mth, in b.p.)", "titlePadding": 7, "values": [-40, -20, 0, 20, 40, 60, 80, 100, 120]}}
  },
  "layer": [
    {"data": {"values": [
{"c":"JPY","x":60.1,"y":66.2},{"c":"JPY","x":68.7,"y":65.2},{"c":"JPY","x":68.7,"y":60.5},{"c":"JPY","x":75.5,"y":60.5},{"c":"JPY","x":75.9,"y":59.9},{"c":"JPY","x":68.7,"y":50.9},{"c":"JPY","x":47,"y":60.6},{"c":"JPY","x":74.1,"y":68.9},{"c":"JPY","x":60.1,"y":54.4},{"c":"JPY","x":36.6,"y":41.3},{"c":"JPY","x":36.6,"y":38},{"c":"JPY","x":19.3,"y":43.7},{"c":"JPY","x":21.3,"y":41.3},{"c":"JPY","x":21.3,"y":39.6},{"c":"JPY","x":17.4,"y":36.7},{"c":"JPY","x":14.6,"y":34},{"c":"JPY","x":11.1,"y":38.7},{"c":"JPY","x":11.1,"y":37.5},{"c":"JPY","x":22.6,"y":36.7},{"c":"JPY","x":25.6,"y":37.4},{"c":"JPY","x":29.3,"y":39.7},{"c":"JPY","x":28.7,"y":36.7},{"c":"JPY","x":5.5,"y":21.6},{"c":"JPY","x":5.9,"y":19.7},{"c":"JPY","x":6.1,"y":17},{"c":"JPY","x":5.5,"y":19},{"c":"JPY","x":6.1,"y":20.3},{"c":"JPY","x":6.7,"y":17.7},{"c":"JPY","x":23,"y":38},{"c":"JPY","x":27,"y":36},{"c":"JPY","x":24,"y":35},{"c":"JPY","x":20,"y":33},{"c":"JPY","x":18,"y":30},{"c":"JPY","x":16,"y":30},{"c":"JPY","x":13,"y":28},{"c":"JPY","x":9,"y":25},{"c":"JPY","x":8,"y":22},{"c":"JPY","x":7,"y":18},{"c":"JPY","x":10,"y":20},{"c":"JPY","x":12,"y":24},{"c":"JPY","x":15,"y":26},{"c":"JPY","x":25,"y":31},{"c":"JPY","x":30,"y":35},{"c":"JPY","x":33,"y":37},{"c":"JPY","x":26,"y":40},{"c":"JPY","x":44,"y":43},{"c":"JPY","x":46,"y":45},{"c":"JPY","x":40,"y":44},{"c":"JPY","x":57,"y":57},{"c":"JPY","x":47,"y":47},
{"c":"EUR","x":-11.3,"y":22.2},{"c":"EUR","x":-8.3,"y":22.7},{"c":"EUR","x":-8.4,"y":21.9},{"c":"EUR","x":-6.1,"y":22.7},{"c":"EUR","x":2,"y":20.1},{"c":"EUR","x":5.1,"y":24.9},{"c":"EUR","x":11,"y":23.6},{"c":"EUR","x":34,"y":36.2},{"c":"EUR","x":38,"y":36.3},{"c":"EUR","x":39.6,"y":38.4},{"c":"EUR","x":40.6,"y":41.6},{"c":"EUR","x":44.8,"y":45.8},{"c":"EUR","x":30.5,"y":32.4},{"c":"EUR","x":31.1,"y":30.6},{"c":"EUR","x":29.3,"y":27.1},{"c":"EUR","x":3.9,"y":-3.3},{"c":"EUR","x":8,"y":5},{"c":"EUR","x":9,"y":7},{"c":"EUR","x":10,"y":6},{"c":"EUR","x":11,"y":9},{"c":"EUR","x":12,"y":8},{"c":"EUR","x":13,"y":10},{"c":"EUR","x":14,"y":11},{"c":"EUR","x":15,"y":12},{"c":"EUR","x":16,"y":13},{"c":"EUR","x":17,"y":14},{"c":"EUR","x":18,"y":15},{"c":"EUR","x":19,"y":17},{"c":"EUR","x":20,"y":18},{"c":"EUR","x":14,"y":8},{"c":"EUR","x":12,"y":5},{"c":"EUR","x":10,"y":3},{"c":"EUR","x":16,"y":10},{"c":"EUR","x":18,"y":12},{"c":"EUR","x":20,"y":16},{"c":"EUR","x":22,"y":19},{"c":"EUR","x":9,"y":4},{"c":"EUR","x":7,"y":3},{"c":"EUR","x":5,"y":1},{"c":"EUR","x":3,"y":-1},{"c":"EUR","x":2,"y":-2},{"c":"EUR","x":6,"y":4},{"c":"EUR","x":15,"y":9},{"c":"EUR","x":13,"y":6},{"c":"EUR","x":11,"y":5},{"c":"EUR","x":24,"y":21},{"c":"EUR","x":26,"y":23},{"c":"EUR","x":28,"y":25},
{"c":"AUD","x":-39.3,"y":-36.3},{"c":"AUD","x":-34.5,"y":-30.8},{"c":"AUD","x":-32.6,"y":-33},{"c":"AUD","x":-37.2,"y":-17.4},{"c":"AUD","x":-32.3,"y":-16.7},{"c":"AUD","x":-32.3,"y":-19},{"c":"AUD","x":-28.7,"y":-17.3},{"c":"AUD","x":-28.7,"y":-30.8},{"c":"AUD","x":-26.6,"y":-34},{"c":"AUD","x":-26.5,"y":-30.8},{"c":"AUD","x":-27.7,"y":-26.9},{"c":"AUD","x":-24.4,"y":-21},{"c":"AUD","x":-23.4,"y":-23.6},{"c":"AUD","x":-22.8,"y":-27.9},{"c":"AUD","x":-20.7,"y":-13.8},{"c":"AUD","x":-15.2,"y":0.1},{"c":"AUD","x":-11.9,"y":1},{"c":"AUD","x":-11.3,"y":0.7},{"c":"AUD","x":-7.6,"y":3.3},{"c":"AUD","x":-7.6,"y":2.4},{"c":"AUD","x":-15.2,"y":-26.2},{"c":"AUD","x":-12.8,"y":-22.3},{"c":"AUD","x":15.9,"y":4.6},{"c":"AUD","x":-1.5,"y":-9.2},{"c":"AUD","x":-0.9,"y":-10.5},
{"c":"AUD","x":-24,"y":-25},{"c":"AUD","x":-23,"y":-24},{"c":"AUD","x":-22,"y":-22},{"c":"AUD","x":-21,"y":-20},{"c":"AUD","x":-20,"y":-21},{"c":"AUD","x":-20,"y":-18},{"c":"AUD","x":-19,"y":-19},{"c":"AUD","x":-18,"y":-17},{"c":"AUD","x":-18,"y":-20},{"c":"AUD","x":-17,"y":-16},{"c":"AUD","x":-17,"y":-19},{"c":"AUD","x":-16,"y":-18},{"c":"AUD","x":-16,"y":-15},{"c":"AUD","x":-15,"y":-17},{"c":"AUD","x":-15,"y":-14},{"c":"AUD","x":-14,"y":-16},{"c":"AUD","x":-14,"y":-13},{"c":"AUD","x":-13,"y":-12},{"c":"AUD","x":-13,"y":-15},{"c":"AUD","x":-12,"y":-11},{"c":"AUD","x":-12,"y":-14},{"c":"AUD","x":-11,"y":-10},{"c":"AUD","x":-11,"y":-13},{"c":"AUD","x":-10,"y":-9},{"c":"AUD","x":-10,"y":-12},{"c":"AUD","x":-9,"y":-8},{"c":"AUD","x":-9,"y":-11},{"c":"AUD","x":-8,"y":-7},{"c":"AUD","x":-8,"y":-9},{"c":"AUD","x":-7,"y":-6},{"c":"AUD","x":-7,"y":-4},{"c":"AUD","x":-6,"y":-5},{"c":"AUD","x":-6,"y":-3},{"c":"AUD","x":-5,"y":-4},{"c":"AUD","x":-5,"y":-2},{"c":"AUD","x":-4,"y":-3},{"c":"AUD","x":-4,"y":-5},{"c":"AUD","x":-3,"y":-2},{"c":"AUD","x":-3,"y":-4},{"c":"AUD","x":-2,"y":-1},{"c":"AUD","x":-2,"y":-3},{"c":"AUD","x":-1,"y":0},{"c":"AUD","x":-1,"y":-2},{"c":"AUD","x":0,"y":-1},{"c":"AUD","x":1,"y":-2},{"c":"AUD","x":2,"y":-1},{"c":"AUD","x":3,"y":-4},{"c":"AUD","x":5,"y":-4},{"c":"AUD","x":-18,"y":-23},{"c":"AUD","x":-21,"y":-24},{"c":"AUD","x":-19,"y":-15},{"c":"AUD","x":-14,"y":-10},{"c":"AUD","x":-16,"y":-20},{"c":"AUD","x":-10,"y":-6},{"c":"AUD","x":-6,"y":-1},{"c":"AUD","x":-3,"y":-6},{"c":"AUD","x":-24,"y":-24},{"c":"AUD","x":-17,"y":-22},{"c":"AUD","x":-13,"y":-18},
{"c":"CAD","x":-6.6,"y":-9.2},{"c":"CAD","x":-4,"y":-6.6},{"c":"CAD","x":-1.4,"y":5.2},{"c":"CAD","x":-1,"y":0.6},{"c":"CAD","x":3.2,"y":-0.7},{"c":"CAD","x":10,"y":0.4},{"c":"CAD","x":21.3,"y":13.1},{"c":"CAD","x":15.6,"y":8.6},{"c":"CAD","x":11.5,"y":5.2},{"c":"CAD","x":5.3,"y":3.2},{"c":"CAD","x":8.4,"y":1.9},{"c":"CAD","x":18,"y":9.8},{"c":"CAD","x":15.2,"y":7.9},{"c":"CAD","x":0,"y":-2},{"c":"CAD","x":1,"y":-1},{"c":"CAD","x":2,"y":0},{"c":"CAD","x":4,"y":1},{"c":"CAD","x":5,"y":0},{"c":"CAD","x":6,"y":2},{"c":"CAD","x":7,"y":1},{"c":"CAD","x":8,"y":3},{"c":"CAD","x":9,"y":4},{"c":"CAD","x":12,"y":7},{"c":"CAD","x":13,"y":8},{"c":"CAD","x":14,"y":9},{"c":"CAD","x":16,"y":10},{"c":"CAD","x":17,"y":12},{"c":"CAD","x":19,"y":11},{"c":"CAD","x":20,"y":13},{"c":"CAD","x":12,"y":3},{"c":"CAD","x":6,"y":0},{"c":"CAD","x":-2,"y":-3},{"c":"CAD","x":14,"y":5},{"c":"CAD","x":17,"y":8},{"c":"CAD","x":2,"y":-3},{"c":"CAD","x":-3,"y":-4},
{"c":"CHF","x":89.3,"y":97.7},{"c":"CHF","x":73.2,"y":95.9},{"c":"CHF","x":76.5,"y":86.6},{"c":"CHF","x":78.2,"y":89.4},{"c":"CHF","x":92.3,"y":88.5},{"c":"CHF","x":86.3,"y":84.2},{"c":"CHF","x":81.3,"y":79.9},{"c":"CHF","x":78.3,"y":77.8},{"c":"CHF","x":82.8,"y":75.7},{"c":"CHF","x":76.2,"y":75.7},{"c":"CHF","x":76.6,"y":72.8},{"c":"CHF","x":71.7,"y":72.8},{"c":"CHF","x":72.9,"y":71.7},{"c":"CHF","x":70.1,"y":69.9},{"c":"CHF","x":70.1,"y":67.8},{"c":"CHF","x":61.8,"y":67.5},{"c":"CHF","x":65,"y":67.5},{"c":"CHF","x":59.1,"y":61.5},{"c":"CHF","x":56.7,"y":58.6},{"c":"CHF","x":60.1,"y":58.4},{"c":"CHF","x":61.3,"y":55.7},{"c":"CHF","x":59.8,"y":53.1},{"c":"CHF","x":59.5,"y":51.5},{"c":"CHF","x":55.7,"y":54.4},{"c":"CHF","x":55.9,"y":53.1},{"c":"CHF","x":52.4,"y":54.4},{"c":"CHF","x":50.6,"y":53.1},{"c":"CHF","x":51.8,"y":48.5},{"c":"CHF","x":53,"y":47.9},{"c":"CHF","x":52.4,"y":50.5},{"c":"CHF","x":39.6,"y":47},{"c":"CHF","x":35.7,"y":48.1},{"c":"CHF","x":32.8,"y":47.2},{"c":"CHF","x":41.2,"y":44.2},{"c":"CHF","x":45.4,"y":43.9},{"c":"CHF","x":43.9,"y":41.6},{"c":"CHF","x":26.6,"y":56.8},{"c":"CHF","x":33.5,"y":26.1},{"c":"CHF","x":14.6,"y":32.1},{"c":"CHF","x":16.5,"y":29},{"c":"CHF","x":13,"y":24},{"c":"CHF","x":23.2,"y":26.9},{"c":"CHF","x":26,"y":35.8},{"c":"CHF","x":23.5,"y":33.7},{"c":"CHF","x":17,"y":29},{"c":"CHF","x":23,"y":31},{"c":"CHF","x":34,"y":27},{"c":"CHF","x":32,"y":28},
{"c":"CHF","x":14,"y":15},{"c":"CHF","x":15,"y":12},{"c":"CHF","x":16,"y":17},{"c":"CHF","x":17,"y":14},{"c":"CHF","x":18,"y":18},{"c":"CHF","x":18,"y":12},{"c":"CHF","x":19,"y":16},{"c":"CHF","x":20,"y":20},{"c":"CHF","x":20,"y":14},{"c":"CHF","x":21,"y":17},{"c":"CHF","x":21,"y":22},{"c":"CHF","x":22,"y":19},{"c":"CHF","x":22,"y":15},{"c":"CHF","x":23,"y":22},{"c":"CHF","x":23,"y":18},{"c":"CHF","x":24,"y":20},{"c":"CHF","x":24,"y":16},{"c":"CHF","x":25,"y":23},{"c":"CHF","x":25,"y":19},{"c":"CHF","x":26,"y":21},{"c":"CHF","x":26,"y":17},{"c":"CHF","x":27,"y":24},{"c":"CHF","x":27,"y":20},{"c":"CHF","x":28,"y":22},{"c":"CHF","x":28,"y":18},{"c":"CHF","x":29,"y":25},{"c":"CHF","x":29,"y":21},{"c":"CHF","x":30,"y":23},{"c":"CHF","x":30,"y":27},{"c":"CHF","x":31,"y":25},{"c":"CHF","x":32,"y":22},{"c":"CHF","x":33,"y":26},{"c":"CHF","x":24,"y":25},{"c":"CHF","x":22,"y":25},{"c":"CHF","x":20,"y":24},{"c":"CHF","x":18,"y":22},{"c":"CHF","x":16,"y":20},{"c":"CHF","x":26,"y":28},{"c":"CHF","x":28,"y":27},{"c":"CHF","x":30,"y":20},{"c":"CHF","x":19,"y":10},{"c":"CHF","x":23,"y":13},{"c":"CHF","x":27,"y":15},{"c":"CHF","x":21,"y":26},{"c":"CHF","x":25,"y":14},{"c":"CHF","x":12,"y":13},{"c":"CHF","x":10,"y":11},{"c":"CHF","x":35,"y":30},{"c":"CHF","x":36,"y":33},{"c":"CHF","x":38,"y":36},{"c":"CHF","x":42,"y":41},{"c":"CHF","x":48,"y":47},{"c":"CHF","x":50,"y":50},{"c":"CHF","x":56,"y":55},{"c":"CHF","x":62,"y":60},{"c":"CHF","x":66,"y":64},{"c":"CHF","x":44,"y":42},
{"c":"GBP","x":-2,"y":0},{"c":"GBP","x":-2,"y":4},{"c":"GBP","x":-2,"y":8},{"c":"GBP","x":-2,"y":12},{"c":"GBP","x":-1,"y":-1},{"c":"GBP","x":-1,"y":2},{"c":"GBP","x":-1,"y":6},{"c":"GBP","x":-1,"y":10},{"c":"GBP","x":-1,"y":14},{"c":"GBP","x":0,"y":0},{"c":"GBP","x":0,"y":3},{"c":"GBP","x":0,"y":7},{"c":"GBP","x":0,"y":11},{"c":"GBP","x":0,"y":14},{"c":"GBP","x":1,"y":1},{"c":"GBP","x":1,"y":5},{"c":"GBP","x":1,"y":9},{"c":"GBP","x":1,"y":13},{"c":"GBP","x":1,"y":15},{"c":"GBP","x":2,"y":2},{"c":"GBP","x":2,"y":6},{"c":"GBP","x":2,"y":10},{"c":"GBP","x":2,"y":14},{"c":"GBP","x":3,"y":3},{"c":"GBP","x":3,"y":7},{"c":"GBP","x":3,"y":11},{"c":"GBP","x":3,"y":15},{"c":"GBP","x":4,"y":4},{"c":"GBP","x":4,"y":8},{"c":"GBP","x":4,"y":12},{"c":"GBP","x":4,"y":16},{"c":"GBP","x":5,"y":5},{"c":"GBP","x":5,"y":9},{"c":"GBP","x":5,"y":13},{"c":"GBP","x":5,"y":16},{"c":"GBP","x":6,"y":6},{"c":"GBP","x":6,"y":10},{"c":"GBP","x":6,"y":14},{"c":"GBP","x":7,"y":7},{"c":"GBP","x":7,"y":11},{"c":"GBP","x":7,"y":15},{"c":"GBP","x":8,"y":8},{"c":"GBP","x":8,"y":12},{"c":"GBP","x":8,"y":16},{"c":"GBP","x":9,"y":9},{"c":"GBP","x":9,"y":13},{"c":"GBP","x":9,"y":17},{"c":"GBP","x":10,"y":10},{"c":"GBP","x":10,"y":14},{"c":"GBP","x":10,"y":18},{"c":"GBP","x":11,"y":12},{"c":"GBP","x":11,"y":16},{"c":"GBP","x":12,"y":13},{"c":"GBP","x":12,"y":17},{"c":"GBP","x":13,"y":14},{"c":"GBP","x":13,"y":18},{"c":"GBP","x":14,"y":16},{"c":"GBP","x":14,"y":20},{"c":"GBP","x":15,"y":20},{"c":"GBP","x":15,"y":23},{"c":"GBP","x":16,"y":24},{"c":"GBP","x":17,"y":25},{"c":"GBP","x":18,"y":27},{"c":"GBP","x":19,"y":26},{"c":"GBP","x":19,"y":29},{"c":"GBP","x":20,"y":31},{"c":"GBP","x":20,"y":33},{"c":"GBP","x":21,"y":30},{"c":"GBP","x":21,"y":33},{"c":"GBP","x":22,"y":28},{"c":"GBP","x":22,"y":32},{"c":"GBP","x":23,"y":30},{"c":"GBP","x":23,"y":26},{"c":"GBP","x":24,"y":27},{"c":"GBP","x":16,"y":22},{"c":"GBP","x":12,"y":20},{"c":"GBP","x":-0.9,"y":-13.5},{"c":"GBP","x":11,"y":-12.9},{"c":"GBP","x":12.2,"y":-13.8},{"c":"GBP","x":12.7,"y":-14},{"c":"GBP","x":-1.4,"y":9.3},
{"c":"GBP","x":0.5,"y":1.5},{"c":"GBP","x":0.5,"y":5.5},{"c":"GBP","x":0.5,"y":9.5},{"c":"GBP","x":2.5,"y":4},{"c":"GBP","x":2.5,"y":8},{"c":"GBP","x":2.5,"y":12},{"c":"GBP","x":4.5,"y":6},{"c":"GBP","x":4.5,"y":10},{"c":"GBP","x":4.5,"y":14},{"c":"GBP","x":6.5,"y":8},{"c":"GBP","x":6.5,"y":12},{"c":"GBP","x":8.5,"y":10},{"c":"GBP","x":8.5,"y":14},{"c":"GBP","x":10.5,"y":12},{"c":"GBP","x":10.5,"y":16},{"c":"GBP","x":-1.5,"y":4},{"c":"GBP","x":-1.5,"y":11},{"c":"GBP","x":3.5,"y":17},{"c":"GBP","x":6.5,"y":16},{"c":"GBP","x":12.5,"y":15}
    ]},
     "mark": {"type": "point", "filled": false, "strokeWidth": 1, "size": 64, "opacity": 1},
     "encoding": {
       "color": {"field": "c", "type": "nominal", "scale": {"domain": ["JPY", "EUR", "AUD", "CAD", "CHF", "GBP"], "range": ["#FF00FF", "#FF0000", "#0000FF", "#00FF00", "#000000", "#00FFFF"]},
                 "legend": {"orient": "none", "legendX": 465, "legendY": 6, "title": null, "padding": 3, "rowPadding": 3, "symbolOffset": 16.5, "labelOffset": 15, "symbolStrokeWidth": 1, "symbolSize": 64}},
       "shape": {"field": "c", "type": "nominal", "scale": {"domain": ["JPY", "EUR", "AUD", "CAD", "CHF", "GBP"], "range": ["M-1,0H1M0,-1V1", "square", "M-0.75,-0.75L0.75,0.75M-0.75,0.75L0.75,-0.75", "circle", "M-1,0H1M0,-1V1M-0.7,-0.7L0.7,0.7M-0.7,0.7L0.7,-0.7", "circle"]},
                 "legend": {"orient": "none", "legendX": 465, "legendY": 6, "title": null, "padding": 3, "rowPadding": 3, "symbolOffset": 16.5, "labelOffset": 15, "symbolStrokeWidth": 1, "symbolSize": 64}}
     }},
    {"data": {"values": [{"x": -50, "y": -50}, {"x": 120, "y": 120}]}, "mark": {"type": "line", "color": "#0000FF", "strokeWidth": 1}}
  ]
},
{
  "width": 551, "height": 432,
  "title": {"text": "(d)", "offset": 40},
  "data": {"values": [
{"t":"2013-01-02","L":18,"T":15.2},{"t":"2013-01-12","L":16.1,"T":13.8},{"t":"2013-01-22","L":18,"T":14.2},{"t":"2013-02-01","L":14,"T":12.3},{"t":"2013-02-11","L":15.2,"T":13.3},{"t":"2013-02-21","L":12.3,"T":11.4},{"t":"2013-03-03","L":13.8,"T":10},{"t":"2013-03-13","L":11.4,"T":9},{"t":"2013-03-23","L":13.3,"T":9.5},{"t":"2013-04-02","L":9,"T":10.4},{"t":"2013-04-12","L":13.3,"T":10.9},{"t":"2013-04-22","L":14.2,"T":11.4},{"t":"2013-05-02","L":12.3,"T":10.5},{"t":"2013-05-12","L":14.2,"T":11.1},{"t":"2013-05-22","L":13.3,"T":10.4},{"t":"2013-06-01","L":14.7,"T":11.4},{"t":"2013-06-11","L":16.4,"T":12.3},{"t":"2013-06-21","L":13.3,"T":10.9},{"t":"2013-07-01","L":11.4,"T":10.4},{"t":"2013-07-11","L":10.4,"T":11},{"t":"2013-07-21","L":9,"T":10.9},{"t":"2013-07-31","L":10.9,"T":10},{"t":"2013-08-10","L":6.6,"T":10.5},{"t":"2013-08-20","L":10.4,"T":10.9},{"t":"2013-08-30","L":8,"T":10.4},{"t":"2013-09-09","L":6.6,"T":9.8},{"t":"2013-09-19","L":10,"T":9.5},{"t":"2013-09-29","L":9.5,"T":10.9},{"t":"2013-10-09","L":13.5,"T":10},{"t":"2013-10-19","L":9.5,"T":10.5},{"t":"2013-10-29","L":11.4,"T":12.3},{"t":"2013-11-08","L":10.5,"T":13.5},{"t":"2013-11-18","L":9.5,"T":10.4},{"t":"2013-11-28","L":11.9,"T":10.9},{"t":"2013-12-08","L":10.5,"T":12.8},{"t":"2013-12-18","L":9.5,"T":10},{"t":"2013-12-28","L":7.8,"T":8},
{"t":"2014-01-07","L":9,"T":7.5},{"t":"2014-01-17","L":10.9,"T":12.3},{"t":"2014-01-27","L":10.5,"T":6.6},{"t":"2014-02-06","L":10.2,"T":8.5},{"t":"2014-02-16","L":11.1,"T":9.5},{"t":"2014-02-26","L":10.4,"T":0.5},{"t":"2014-03-08","L":9.5,"T":6.6},{"t":"2014-03-18","L":9,"T":7.1},{"t":"2014-03-28","L":7.6,"T":6.2},{"t":"2014-04-07","L":6.6,"T":12.3},{"t":"2014-04-17","L":6.6,"T":6.5},{"t":"2014-04-27","L":7.6,"T":5.7},{"t":"2014-05-07","L":6.2,"T":3.8},{"t":"2014-05-17","L":7.1,"T":4.8},{"t":"2014-05-27","L":9,"T":4.3},{"t":"2014-06-06","L":12,"T":5.7},{"t":"2014-06-16","L":13.8,"T":3.8},{"t":"2014-06-26","L":14.7,"T":5.2},{"t":"2014-07-06","L":13.3,"T":6.2},{"t":"2014-07-16","L":15.2,"T":4.8},{"t":"2014-07-26","L":11.4,"T":2.8},{"t":"2014-08-05","L":8.5,"T":6.2},{"t":"2014-08-15","L":10.4,"T":5.2},{"t":"2014-08-25","L":12.3,"T":8},{"t":"2014-09-04","L":14.2,"T":7.1},{"t":"2014-09-14","L":16.1,"T":10},{"t":"2014-09-24","L":18.5,"T":11.9},{"t":"2014-10-04","L":19.9,"T":10.4},{"t":"2014-10-14","L":19,"T":8.5},{"t":"2014-10-24","L":21.4,"T":15.6},{"t":"2014-11-03","L":19.5,"T":13.8},{"t":"2014-11-13","L":20.4,"T":15.2},{"t":"2014-11-23","L":20,"T":18},{"t":"2014-12-03","L":19.5,"T":16.1},{"t":"2014-12-13","L":21.4,"T":18},{"t":"2014-12-23","L":12.3,"T":16.1},
{"t":"2015-01-02","L":13.8,"T":12.3},{"t":"2015-01-12","L":17.1,"T":13.3},{"t":"2015-01-22","L":21.8,"T":17.1},{"t":"2015-02-01","L":20.9,"T":15.6},{"t":"2015-02-11","L":18,"T":16.6},{"t":"2015-02-21","L":19.9,"T":17.5},{"t":"2015-03-03","L":22.3,"T":19},{"t":"2015-03-13","L":24.2,"T":20.4},{"t":"2015-03-23","L":22.8,"T":19},{"t":"2015-04-02","L":26.1,"T":22.3},{"t":"2015-04-12","L":24.2,"T":19.9},{"t":"2015-04-22","L":24,"T":20},{"t":"2015-05-02","L":21,"T":19},{"t":"2015-05-12","L":19,"T":17.4},{"t":"2015-05-22","L":15,"T":17.6},{"t":"2015-06-01","L":20,"T":16.5},{"t":"2015-06-11","L":13.5,"T":15.6},{"t":"2015-06-21","L":18.5,"T":17.5},{"t":"2015-07-01","L":23.5,"T":23},{"t":"2015-07-11","L":12,"T":20},{"t":"2015-07-21","L":14,"T":18},{"t":"2015-07-31","L":10,"T":16.8},{"t":"2015-08-10","L":12,"T":18.3},{"t":"2015-08-20","L":12.5,"T":18},{"t":"2015-08-30","L":14,"T":21},{"t":"2015-09-09","L":18,"T":22.8},{"t":"2015-09-19","L":20.5,"T":33.7},{"t":"2015-09-29","L":24,"T":26},{"t":"2015-10-09","L":28,"T":27},{"t":"2015-10-19","L":26,"T":23.7},{"t":"2015-10-29","L":15,"T":25},{"t":"2015-11-08","L":13,"T":24},{"t":"2015-11-18","L":25,"T":29},{"t":"2015-11-28","L":22,"T":33},{"t":"2015-12-08","L":27,"T":33},{"t":"2015-12-18","L":10,"T":35},{"t":"2015-12-28","L":28,"T":31.5},
{"t":"2016-01-07","L":24,"T":29.4},{"t":"2016-01-17","L":24.7,"T":31},{"t":"2016-01-27","L":14.2,"T":26},{"t":"2016-02-06","L":36,"T":32},{"t":"2016-02-16","L":40,"T":36},{"t":"2016-02-26","L":35,"T":32.5},{"t":"2016-03-07","L":31,"T":30.5},{"t":"2016-03-17","L":37,"T":31.5},{"t":"2016-03-27","L":34.2,"T":33},{"t":"2016-04-06","L":36.1,"T":34.5},{"t":"2016-04-16","L":32.5,"T":32},{"t":"2016-04-26","L":27.5,"T":33},{"t":"2016-05-06","L":30.4,"T":31.5},{"t":"2016-05-16","L":37,"T":29.5},{"t":"2016-05-26","L":30,"T":31},{"t":"2016-06-05","L":44,"T":40},{"t":"2016-06-15","L":41,"T":45},{"t":"2016-06-25","L":45,"T":42},{"t":"2016-07-05","L":45.6,"T":39.5},{"t":"2016-07-15","L":50,"T":44},{"t":"2016-07-25","L":46,"T":47},{"t":"2016-08-04","L":52,"T":54},{"t":"2016-08-14","L":60,"T":61.5},{"t":"2016-08-24","L":49,"T":58.9},{"t":"2016-08-29","L":51.8,"T":57.5}
  ]},
  "encoding": {
    "x": {"field": "t", "type": "temporal", "scale": {"domain": ["2013-01-02", "2016-08-29"], "nice": false},
          "axis": {"title": null, "format": "%b%Y", "grid": true, "gridDash": [1, 3], "gridColor": "#888888", "values": ["2013-06-15", "2014-01-01", "2014-07-20", "2015-02-05", "2015-08-24", "2016-03-11"]}}
  },
  "layer": [
    {"mark": {"type": "line", "strokeWidth": 2.5, "clip": true},
     "encoding": {
       "y": {"field": "L", "type": "quantitative", "scale": {"domain": [0.7, 62.3], "nice": false, "zero": false}, "axis": {"title": "Basis Points", "titlePadding": 7, "grid": true, "gridDash": [1, 3], "gridColor": "#888888", "values": [10, 20, 30, 40, 50, 60]}},
       "color": {"datum": "Lower−rated banks", "scale": {"domain": ["Lower−rated banks", "Top−rated banks"], "range": ["#30573A", "#1E9E1E"]},
                 "legend": {"orient": "none", "legendX": 35, "legendY": 23, "title": null, "symbolType": "M-2.667,0H2.667", "symbolSize": 144, "symbolStrokeWidth": 3, "padding": 3, "rowPadding": 3, "symbolOffset": 16, "labelOffset": 14}}
     }},
    {"mark": {"type": "line", "strokeWidth": 2.5, "clip": true},
     "encoding": {
       "y": {"field": "T", "type": "quantitative", "scale": {"domain": [0.7, 62.3], "nice": false, "zero": false}, "axis": {"title": "Basis Points", "titlePadding": 7, "grid": true, "gridDash": [1, 3], "gridColor": "#888888", "values": [10, 20, 30, 40, 50, 60]}},
       "color": {"datum": "Top−rated banks", "scale": {"domain": ["Lower−rated banks", "Top−rated banks"], "range": ["#30573A", "#1E9E1E"]},
                 "legend": {"orient": "none", "legendX": 35, "legendY": 23, "title": null, "symbolType": "M-2.667,0H2.667", "symbolSize": 144, "symbolStrokeWidth": 3, "padding": 3, "rowPadding": 3, "symbolOffset": 16, "labelOffset": 14}}
     }}
  ]
}
]
}
